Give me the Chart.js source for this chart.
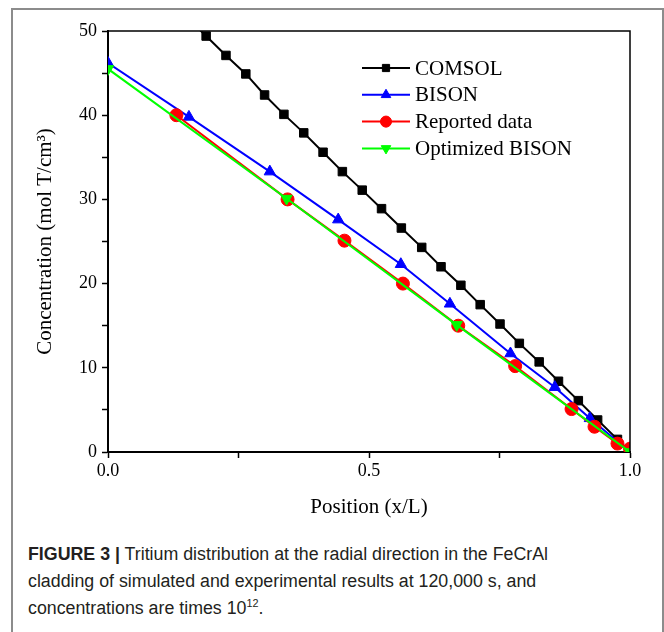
<!DOCTYPE html>
<html>
<head>
<meta charset="utf-8">
<script src="https://cdn.jsdelivr.net/npm/chart.js@4.4.1/dist/chart.umd.min.js"></script>
<style>
  html, body { margin: 0; padding: 0; background: #fff; }
  body { width: 664px; height: 632px; position: relative; overflow: hidden; }
  #frame { position: absolute; left: 11px; top: 8px; width: 649px; height: 700px; border: 2px solid #8c8c8c; }
  #chart { position: absolute; left: 0; top: 0; }
  #caption { position: absolute; left: 28px; top: 541px; font-family: "Liberation Sans", Arial, sans-serif; font-size: 18px; line-height: 27px; color: #231f20; white-space: nowrap; transform-origin: 0 0; }
  #caption sup { font-size: 11px; line-height: 0; vertical-align: 7px; }
</style>
</head>
<body>
<div id="frame"></div>
<canvas id="chart" width="664" height="530"></canvas>
<div id="caption">
  <div class="ln"><b>FIGURE 3 |</b> Tritium distribution at the radial direction in the FeCrAl</div>
  <div class="ln">cladding of simulated and experimental results at 120,000 s, and</div>
  <div class="ln">concentrations are times 10<sup>12</sup>.</div>
</div>
<script>
// values (x = position x/L, y = concentration)
const comsolX = [0.150, 0.188, 0.226, 0.264, 0.300, 0.337, 0.375, 0.412, 0.449, 0.487, 0.524, 0.562,
  0.601, 0.638, 0.676, 0.713, 0.751, 0.788, 0.826, 0.863, 0.901, 0.938, 0.976, 1.0];
const comsolY = [51.7, 49.4, 47.1, 44.9, 42.4, 40.1, 37.9, 35.6, 33.3, 31.1, 28.9, 26.6,
  24.3, 22.0, 19.8, 17.5, 15.2, 12.9, 10.7, 8.4, 6.1, 3.8, 1.5, 0.0];

const bisonX = [0.0, 0.155, 0.310, 0.441, 0.561, 0.655, 0.771, 0.856, 0.923, 1.0];
const bisonY = [46.2, 39.8, 33.3, 27.6, 22.3, 17.6, 11.7, 7.7, 4.0, 0.0];

const reportedX = [0.131, 0.344, 0.453, 0.565, 0.671, 0.780, 0.888, 0.932, 0.976, 1.0];
const reportedY = [40.0, 30.0, 25.1, 20.0, 15.0, 10.2, 5.1, 3.0, 1.0, 0.4];

const optimizedX = [0.0, 0.342, 0.668, 1.0];
const optimizedY = [45.5, 30.1, 15.1, 0.0];

const seriesNames = ["COMSOL", "BISON", "Reported data", "Optimized BISON"];

const xTickValues = [0, 0.25, 0.5, 0.75, 1.0];
const xTickLabels = ["0.0", "", "0.5", "", "1.0"];
const yTickValues = [0, 5, 10, 15, 20, 25, 30, 35, 40, 45, 50];
const yTickLabels = ["0", "", "10", "", "20", "", "30", "", "40", "", "50"];

const serif = "'Liberation Serif', 'Times New Roman', serif";

function points(xs, ys) {
  return xs.map((x, i) => ({x, y: ys[i]}));
}

function series(label, xs, ys, color, style, radius, rotation, order) {
  return {
    label,
    data: points(xs, ys),
    borderColor: color,
    backgroundColor: color,
    borderWidth: 2,
    pointStyle: style,
    pointRadius: radius,
    pointRotation: rotation,
    pointBackgroundColor: color,
    pointBorderColor: color,
    pointBorderWidth: 1,
    tension: 0,
    order,
  };
}

// box around the plot area (left/bottom come from the axis borders)
const plotBox = {
  id: "plotBox",
  afterDatasetsDraw(chart) {
    const {ctx, chartArea: a} = chart;
    ctx.save();
    ctx.strokeStyle = "#000";
    ctx.lineWidth = 1.5;
    ctx.beginPath();
    ctx.moveTo(a.left, a.top);
    ctx.lineTo(a.right, a.top);
    ctx.lineTo(a.right, a.bottom);
    ctx.stroke();
    ctx.restore();
  },
};

// legend inside the plot: a short line with the marker in the middle
const lineLegend = {
  id: "lineLegend",
  afterDraw(chart) {
    const ctx = chart.ctx;
    const x0 = 362, x1 = 410, top = 68, step = 26.8;
    ctx.save();
    seriesNames.forEach((name, i) => {
      const ds = chart.data.datasets[i];
      const y = top + i * step;
      ctx.strokeStyle = ds.borderColor;
      ctx.lineWidth = 2;
      ctx.beginPath();
      ctx.moveTo(x0, y);
      ctx.lineTo(x1, y);
      ctx.stroke();
      ctx.fillStyle = ds.pointBackgroundColor;
      ctx.strokeStyle = ds.pointBorderColor;
      ctx.lineWidth = 1;
      Chart.helpers.drawPoint(ctx, {
        pointStyle: ds.pointStyle,
        radius: ds.pointRadius * 0.85,
        rotation: ds.pointRotation,
        borderWidth: 1,
      }, (x0 + x1) / 2, y);
      ctx.fillStyle = "#000";
      ctx.font = "21px " + serif;
      ctx.textBaseline = "middle";
      ctx.textAlign = "left";
      ctx.fillText(name, 415, y + 1);
    });
    ctx.restore();
  },
};

new Chart(document.getElementById("chart"), {
  type: "line",
  data: {
    datasets: [
      series(seriesNames[0], comsolX, comsolY, "#000000", "rect", 6, 0, 4),
      series(seriesNames[1], bisonX, bisonY, "#0000ff", "triangle", 6.5, 0, 3),
      series(seriesNames[2], reportedX, reportedY, "#ff0000", "circle", 6.5, 0, 2),
      series(seriesNames[3], optimizedX, optimizedY, "#00ff00", "triangle", 6.5, 180, 1),
    ],
  },
  options: {
    responsive: false,
    animation: false,
    layout: {padding: {left: 0, top: 31, right: 34, bottom: 0}},
    plugins: {legend: {display: false}, tooltip: {enabled: false}},
    scales: {
      x: {
        type: "linear",
        min: 0,
        max: 1,
        afterBuildTicks: scale => { scale.ticks = xTickValues.map(v => ({value: v})); },
        afterFit: scale => { scale.height = 78; },
        ticks: {
          callback: (v, i) => xTickLabels[i],
          color: "#000",
          font: {family: serif, size: 18},
          padding: 2,
          maxRotation: 0,
          autoSkip: false,
        },
        grid: {drawOnChartArea: false, drawTicks: true, tickLength: 6, tickWidth: 1.5, color: "#000"},
        border: {color: "#000", width: 2},
        title: {
          display: true,
          text: "Position (x/L)",
          color: "#000",
          font: {family: serif, size: 21},
          padding: {top: 0, bottom: 10},
        },
      },
      y: {
        type: "linear",
        min: 0,
        max: 50,
        afterBuildTicks: scale => { scale.ticks = yTickValues.map(v => ({value: v})); },
        afterFit: scale => { scale.width = 108; },
        ticks: {
          callback: (v, i) => yTickLabels[i],
          color: "#000",
          font: {family: serif, size: 18},
          padding: 5,
          autoSkip: false,
        },
        grid: {drawOnChartArea: false, drawTicks: true, tickLength: 6, tickWidth: 1.5, color: "#000"},
        border: {color: "#000", width: 2},
        title: {
          display: true,
          text: "Concentration (mol T/cm\u00b3)",
          color: "#000",
          font: {family: serif, size: 21},
          padding: {top: 33, bottom: 0},
        },
      },
    },
  },
  plugins: [plotBox, lineLegend],
});

// squeeze the caption to the condensed width of the original
const cap = document.getElementById("caption");
const first = cap.querySelector(".ln");
const range = document.createRange();
range.selectNodeContents(first);
const w = range.getBoundingClientRect().width;
cap.style.transform = "scaleX(" + (520 / w) + ")";
</script>
</body>
</html>
